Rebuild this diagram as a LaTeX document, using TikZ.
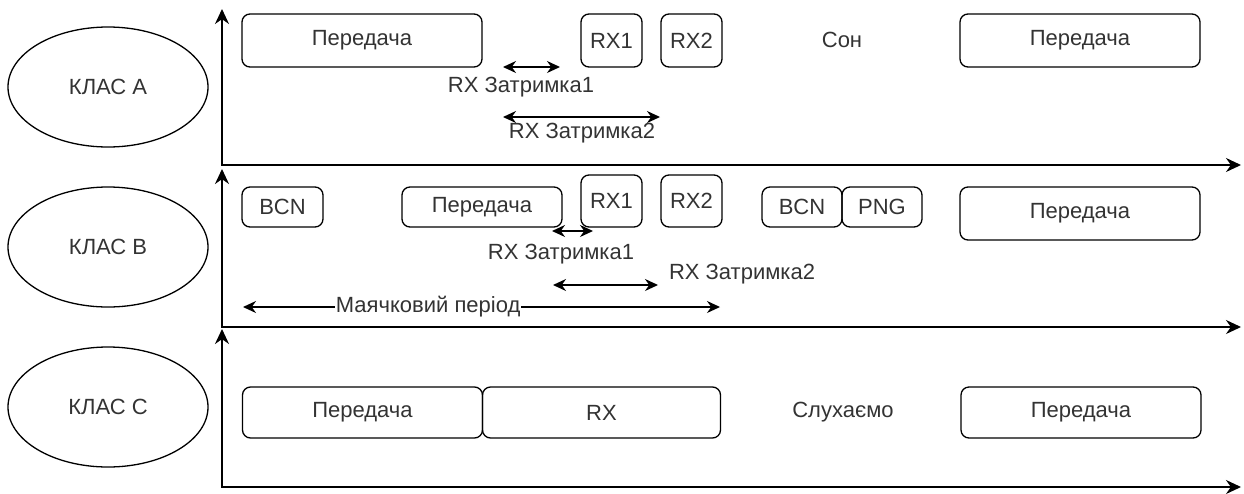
\documentclass[tikz,border=0pt]{standalone}
\usepackage{fontspec}
\setmainfont{Liberation Sans}
\usetikzlibrary{arrows.meta,positioning,shapes.geometric}

\tikzset{
  klas/.style={ellipse, draw, line width=1.3pt, minimum width=200pt, minimum height=120pt, inner sep=0pt},
  slot/.style={draw, rounded corners=8pt, line width=1.3pt, inner sep=0pt, minimum height=53pt},
  axis/.style={{Stealth[length=15pt,width=14pt]}-{Stealth[length=15pt,width=14pt]}, line width=1.6pt},
  span/.style={{Stealth[length=13pt,width=12pt]}-{Stealth[length=13pt,width=12pt]}, line width=1.4pt},
  lbl/.style={inner sep=1pt}
}

\begin{document}
\begin{tikzpicture}[x=1pt, y=-1pt, font=\fontsize{22}{26}\selectfont, text=black!80]
    \useasboundingbox (0,0) rectangle (1244,493);

    % Class A
    \node[klas] (klasA) at (108,87) {КЛАС A};
    \coordinate (oA) at (222,165);
    \coordinate (yA) at (222,9);
    \coordinate (xA) at (1241,165);
    \draw[axis] (yA) -- (oA) -- (xA);
    \node[slot, minimum width=240pt] (txA1) at (362,40.5) {Передача};
    \node[slot, minimum width=61pt] (rxA1) at (611.5,40.5) {RX1};
    \node[slot, minimum width=61pt] (rxA2) at (691.5,40.5) {RX2};
    \node[lbl] (sonA) at (842,40) {Сон};
    \node[slot, minimum width=240pt] (txA2) at (1080,40.5) {Передача};
    \coordinate (d1aS) at (503,67);
    \coordinate (d1aE) at (560,67);
    \draw[span] (d1aS) -- (d1aE);
    \node[lbl] (d1aL) at (521,87) {RX Затримка1};
    \coordinate (d2aS) at (503,117);
    \coordinate (d2aE) at (660,117);
    \draw[span] (d2aS) -- (d2aE);
    \node[lbl] (d2aL) at (582,133) {RX Затримка2};

    % Class B
    \node[klas] (klasB) at (108,247) {КЛАС B};
    \coordinate (oB) at (222,327);
    \coordinate (yB) at (222,169);
    \coordinate (xB) at (1241,327);
    \draw[axis] (yB) -- (oB) -- (xB);
    \node[slot, minimum width=81pt, minimum height=40pt] (bcnB1) at (282.5,207) {BCN};
    \node[slot, minimum width=160pt, minimum height=40pt] (txB1) at (482,207) {Передача};
    \node[slot, minimum width=61pt, minimum height=52pt] (rxB1) at (611.5,201) {RX1};
    \node[slot, minimum width=61pt, minimum height=52pt] (rxB2) at (691.5,201) {RX2};
    \node[slot, minimum width=80pt, minimum height=40pt] (bcnB2) at (802,207) {BCN};
    \node[slot, minimum width=80pt, minimum height=40pt] (pngB) at (882,207) {PNG};
    \node[slot, minimum width=240pt] (txB2) at (1080,213.5) {Передача};
    \coordinate (d1bS) at (552,231);
    \coordinate (d1bE) at (593,231);
    \draw[span] (d1bS) -- (d1bE);
    \node[lbl] (d1bL) at (561,254) {RX Затримка1};
    \coordinate (d2bS) at (553,285);
    \coordinate (d2bE) at (658,285);
    \draw[span] (d2bS) -- (d2bE);
    \node[lbl] (d2bL) at (742,274) {RX Затримка2};
    \coordinate (bpS) at (243,307);
    \coordinate (bpE) at (720,307);
    \draw[span] (bpS) -- (bpE) node[lbl, pos=0.388, fill=white] (bpL) {Маячковий період};

    % Class C
    \node[klas] (klasC) at (108,407) {КЛАС C};
    \coordinate (oC) at (222,487);
    \coordinate (yC) at (222,329);
    \coordinate (xC) at (1241,487);
    \draw[axis] (yC) -- (oC) -- (xC);
    \node[slot, minimum width=240pt, minimum height=51pt] (txC1) at (362.5,412.5) {Передача};
    \node[slot, minimum width=238pt, minimum height=51pt] (rxC) at (601.5,412.5) {RX};
    \node[lbl] (listenC) at (843,412) {Слухаємо};
    \node[slot, minimum width=240pt, minimum height=51pt] (txC2) at (1081,412.5) {Передача};
\end{tikzpicture}
\end{document}
